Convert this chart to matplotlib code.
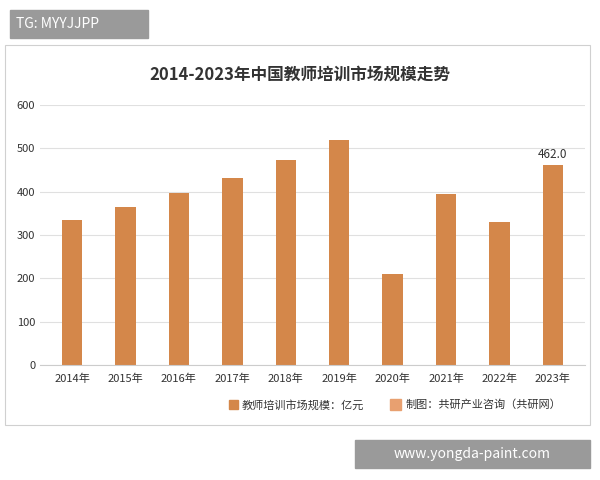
import matplotlib
matplotlib.use("Agg")
import matplotlib.pyplot as plt
from matplotlib.patches import Rectangle

plt.rcParams['font.family'] = ['Noto Sans CJK SC', 'DejaVu Sans']

years = ['2014年','2015年','2016年','2017年','2018年','2019年','2020年','2021年','2022年','2023年']
values = [335, 365, 398, 432, 473, 520, 210, 395, 330, 462]
yticks = [0, 100, 200, 300, 400, 500, 600]
bar_color = '#D4874A'

fig = plt.figure(figsize=(6, 4.8), dpi=100)
fig.patch.set_facecolor('white')
# panel border
fig.add_artist(Rectangle((5/600, 1-425/480), 585/600, 380/480, transform=fig.transFigure,
                         fill=False, edgecolor='#d0d0d0', lw=0.8))
ax = fig.add_axes([40/600, 1-365/480, 545/600, 260/480])
ax.bar(range(len(years)), values, width=0.38, color=bar_color)
ax.set_ylim(0, 600)
ax.set_xlim(-0.6, len(years)-0.4)
ax.set_yticks(yticks)
ax.set_xticks(range(len(years)))
ax.set_xticklabels(years, fontsize=8, color='#333333')
ax.tick_params(axis='y', labelsize=8, colors='#333333', length=0)
ax.tick_params(axis='x', length=0, pad=6)
ax.grid(axis='y', color='#e0e0e0', lw=0.8)
ax.set_axisbelow(True)
for s in ['top', 'right', 'left']:
    ax.spines[s].set_visible(False)
ax.spines['bottom'].set_color('#cccccc')
ax.text(9, values[9] + 8, f'{values[9]:.1f}', ha='center', va='bottom', fontsize=8.5, color='#333333')

fig.text(0.5, 1-75/480, '2014-2023年中国教师培训市场规模走势', ha='center', va='center',
         fontsize=12, fontweight='bold', color='#333333')
# legend
fig.add_artist(Rectangle((229/600, 1-409/480), 9/600, 9/480, transform=fig.transFigure, color=bar_color))
fig.text(242/600, 1-405/480, '教师培训市场规模：亿元', fontsize=8, va='center', color='#333333')
fig.add_artist(Rectangle((390/600, 1-410/480), 11/600, 11/480, transform=fig.transFigure, color='#e8a070'))
fig.text(406/600, 1-405/480, '制图：共研产业咨询（共研网）', fontsize=8, va='center', color='#333333')

# overlay labels
fig.add_artist(Rectangle((10/600, 1-38/480), 138/600, 28/480, transform=fig.transFigure, color='#9a9a9a'))
fig.text(16/600, 1-24/480, 'TG: MYYJJPP', fontsize=10, color='white', va='center')
fig.add_artist(Rectangle((355/600, 1-468/480), 235/600, 28/480, transform=fig.transFigure, color='#9a9a9a'))
fig.text(472/600, 1-454/480, 'www.yongda-paint.com', fontsize=10, color='white', va='center', ha='center')

fig.savefig('out.png', dpi=100)
